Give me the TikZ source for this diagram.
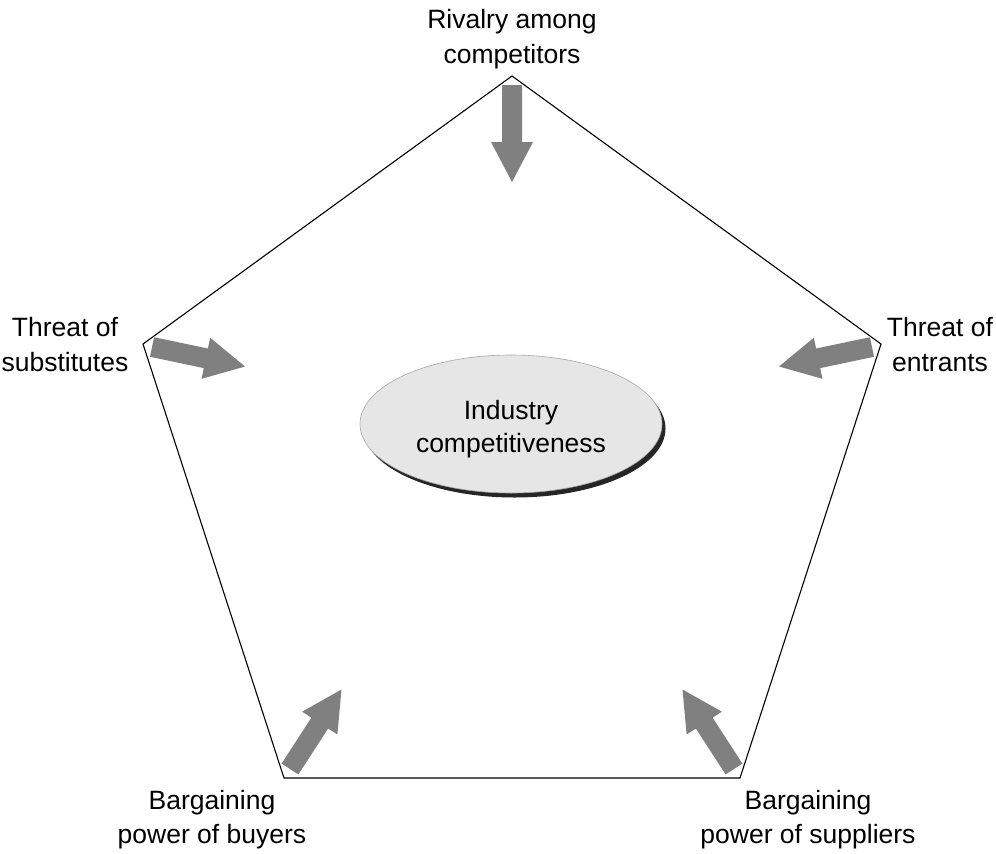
\documentclass[tikz,border=0pt]{standalone}
\usepackage{fontspec}
\setmainfont{Liberation Sans}
\usetikzlibrary{calc,shapes.geometric,shadows}
\definecolor{arrowgray}{HTML}{808080}
\definecolor{ellfill}{HTML}{E6E6E6}
\tikzset{
  lbl/.style={align=center,font=\fontsize{26.5}{34.5}\selectfont,inner sep=0pt},
  forcearrow/.style={fill=arrowgray,draw=none},
  pent/.style={draw=black,line width=1.1pt,line join=miter},
  core/.style={ellipse,fill=ellfill,draw=gray!70,line width=0.6pt,minimum width=302pt,minimum height=138pt,inner sep=0pt,
    drop shadow={shadow xshift=3.5pt,shadow yshift=-4.5pt,opacity=1,fill=black!85}}
}
\newcommand\forcearrow[2]{%
  \coordinate (#1hb) at ($(#2)!40pt!(#1)$);
  \fill[forcearrow] ($(#1)!10pt!90:(#2)$) -- ($(#1hb)!10pt!-90:(#1)$) -- ($(#1hb)!21pt!-90:(#1)$) -- (#2)
     -- ($(#1hb)!21pt!90:(#1)$) -- ($(#1hb)!10pt!90:(#1)$) -- ($(#1)!10pt!-90:(#2)$) -- cycle;
}
\begin{document}
\begin{tikzpicture}[x=1pt,y=-1pt]
\useasboundingbox (0,0) rectangle (996,854);
% pentagon vertices
\coordinate (vt) at (512,76);
\coordinate (vr) at (881,344);
\coordinate (vbr) at (740,778);
\coordinate (vbl) at (284,778);
\coordinate (vl) at (143,344);
\draw[pent] (vt) -- (vr) -- (vbr) -- (vbl) -- (vl) -- cycle;
% center
\node[core,label={[lbl,font=\fontsize{26.5}{33}\selectfont,yshift=-5pt]center:{Industry\\competitiveness}}] (ic) at (511,424) {};
% labels
\node[lbl] (rival) at (512,39) {Rivalry among\\competitors};
\node[lbl] (subst) at (65,344.5) {Threat of\\substitutes};
\node[lbl] (entr) at (940,344.5) {Threat of\\entrants};
\node[lbl] (buy) at (212,819.5) {Bargaining\\power of buyers};
\node[lbl] (supp) at (808,819.5) {Bargaining\\power of suppliers};
% arrows
\coordinate (ta) at (512,85);   \coordinate (tb) at (512,182);
\coordinate (la) at (152,347);  \coordinate (lb) at (245,366.5);
\coordinate (ra) at (872,347);  \coordinate (rb) at (779,366.5);
\coordinate (bla) at (290,769); \coordinate (blb) at (341.5,689.5);
\coordinate (bra) at (734,769); \coordinate (brb) at (682.5,689.5);
\forcearrow{ta}{tb}
\forcearrow{la}{lb}
\forcearrow{ra}{rb}
\forcearrow{bla}{blb}
\forcearrow{bra}{brb}
\end{tikzpicture}
\end{document}
